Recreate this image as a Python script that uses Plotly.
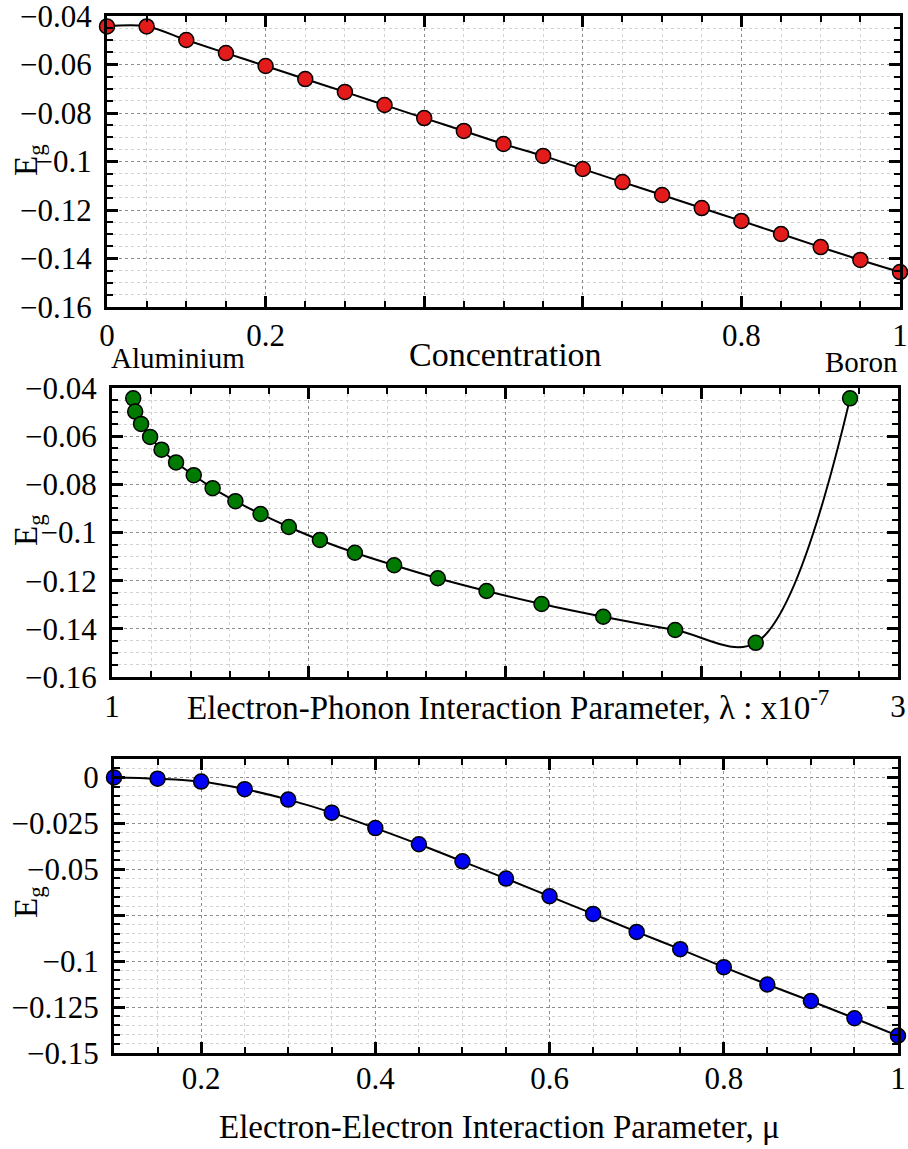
import plotly.graph_objects as go

# ---------------- data ----------------
conc = [0, 0.05, 0.1, 0.15, 0.2, 0.25, 0.3, 0.35, 0.4, 0.45, 0.5,
        0.55, 0.6, 0.65, 0.7, 0.75, 0.8, 0.85, 0.9, 0.95, 1.0]
eg_conc = [-0.0443, -0.0443, -0.0499, -0.0553, -0.0606, -0.0660, -0.0713,
           -0.0767, -0.0821, -0.0874, -0.0928, -0.0977, -0.1031, -0.1085,
           -0.1138, -0.1192, -0.1245, -0.1299, -0.1353, -0.1406, -0.1456]

lam = [1.054, 1.059, 1.074, 1.097, 1.126, 1.163, 1.208, 1.256, 1.314, 1.378,
       1.450, 1.529, 1.618, 1.718, 1.829, 1.953, 2.093, 2.250, 2.433, 2.638, 2.878]
eg_lam = [-0.0443, -0.0498, -0.0549, -0.0603, -0.0656, -0.0709, -0.0762,
          -0.0816, -0.0870, -0.0923, -0.0977, -0.1031, -0.1084, -0.1136,
          -0.1190, -0.1243, -0.1297, -0.1350, -0.1405, -0.1458, -0.0443]

mu = [0.1, 0.15, 0.2, 0.25, 0.3, 0.35, 0.4, 0.45, 0.5, 0.55, 0.6,
      0.65, 0.7, 0.75, 0.8, 0.85, 0.9, 0.95, 1.0]
eg_mu = [0.0, -0.0007, -0.0023, -0.0064, -0.0121, -0.0192, -0.0276, -0.0364,
         -0.0457, -0.0551, -0.0647, -0.0743, -0.0841, -0.0935, -0.1033,
         -0.1127, -0.1217, -0.1311, -0.1406]

top_xticks = [0, 0.2, 0.4, 0.6, 0.8, 1]
top_xlabels = ["0", "0.2", "", "", "0.8", "1"]
mid_xticks = [1, 1.5, 2, 2.5, 3]
mid_xlabels = ["1", "", "", "", "3"]
bot_xticks = [0.2, 0.4, 0.6, 0.8, 1]
bot_xlabels = ["0.2", "0.4", "0.6", "0.8", "1"]
yticks_a = [-0.16, -0.14, -0.12, -0.1, -0.08, -0.06, -0.04]
ylabels_a = ["\u22120.16", "\u22120.14", "\u22120.12", "\u22120.1", "\u22120.08", "\u22120.06", "\u22120.04"]
yticks_c = [-0.15, -0.125, -0.1, -0.075, -0.05, -0.025, 0]
ylabels_c = ["\u22120.15", "\u22120.125", "\u22120.1", "", "\u22120.05", "\u22120.025", "0"]

# ---------------- figure ----------------
W, H = 908, 1149
FONT = "Liberation Serif"

fig = go.Figure()

def add_series(x, y, color, xa, ya):
    fig.add_trace(go.Scatter(
        x=x, y=y, mode="lines+markers", xaxis=xa, yaxis=ya,
        line=dict(color="black", width=2, shape="spline", smoothing=1.0),
        marker=dict(size=15, color=color, line=dict(color="black", width=1.5)),
        showlegend=False, cliponaxis=False))

add_series(conc, eg_conc, "#e31b1b", "x", "y")
add_series(lam, eg_lam, "#007a00", "x2", "y2")
add_series(mu, eg_mu, "#0000f5", "x3", "y3")

def px_dom(a, b, total):
    return [a / total, b / total]

def ydom(top, bottom):
    return [1 - bottom / H, 1 - top / H]

def axis_common(rng, tickvals, ticktext, minor_dtick, dom, anchor, standoff):
    return dict(
        range=rng, domain=dom, anchor=anchor,
        tickmode="array", tickvals=tickvals, ticktext=ticktext,
        ticks="inside", ticklen=11, tickwidth=2.5, tickcolor="black",
        showline=True, linewidth=3, linecolor="black", mirror="allticks",
        showgrid=True, gridcolor="#8c8c8c", gridwidth=1, griddash="dot",
        zeroline=False, automargin=False,
        tickfont=dict(family=FONT, size=31, color="black"),
        ticklabelstandoff=standoff, ticklabeloverflow="allow",
        minor=dict(dtick=minor_dtick, ticks="inside", ticklen=6, tickwidth=1.5,
                   tickcolor="black", showgrid=True, gridcolor="#d2d2d2",
                   gridwidth=1, griddash="dot"),
    )

layout = dict(
    width=W, height=H, margin=dict(l=0, r=0, t=0, b=0),
    paper_bgcolor="white", plot_bgcolor="white",
    font=dict(family=FONT, color="black"),
    xaxis=axis_common([0, 1], top_xticks, top_xlabels, 0.05,
                      px_dom(107, 900, W), "y", -1),
    yaxis=axis_common([-0.16, -0.04], yticks_a, ylabels_a, 0.005,
                      ydom(16, 307), "x", 6),
    xaxis2=axis_common([1, 3], mid_xticks, mid_xlabels, 0.1,
                       px_dom(112, 898, W), "y2", 0),
    yaxis2=axis_common([-0.16, -0.04], yticks_a, ylabels_a, 0.005,
                       ydom(388, 677), "x2", 6),
    xaxis3=axis_common([0.1, 1], bot_xticks, bot_xlabels, 0.05,
                       px_dom(114, 898, W), "y3", -4),
    yaxis3=axis_common([-0.15, 0.01], yticks_c, ylabels_c, 0.005,
                       ydom(759, 1053), "x3", 6),
)
fig.update_layout(**layout)

def ann(text, x, y, size, xanchor="center", angle=0):
    fig.add_annotation(text=text, x=x / W, y=1 - y / H, xref="paper", yref="paper",
                       xanchor=xanchor, yanchor="middle", showarrow=False,
                       textangle=angle, font=dict(family=FONT, size=size, color="black"))

ann("Concentration", 505, 355, 34)
ann("Aluminium", 109, 358, 29, xanchor="left")
ann("Boron", 900, 362, 29, xanchor="right")
ann("Electron-Phonon Interaction Parameter, \u03bb : x10<sup>-7</sup>", 508, 705, 33)
ann("Electron-Electron Interaction Parameter, \u03bc", 500, 1127, 33)
ann("E<sub>g</sub>", 28, 160, 33, angle=-90)
ann("E<sub>g</sub>", 28, 530, 33, angle=-90)
ann("E<sub>g</sub>", 28, 902, 33, angle=-90)

fig.write_html("out.html")
